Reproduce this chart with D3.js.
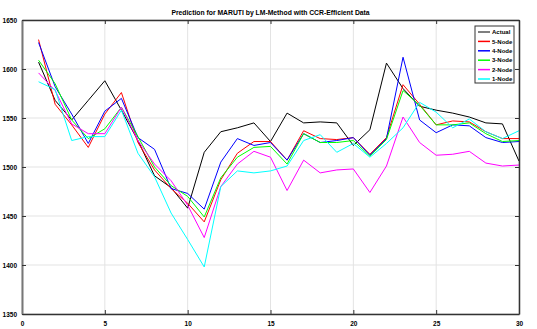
<!DOCTYPE html>
<html>
<head>
<meta charset="utf-8">
<style>
  body { margin: 0; background: #fff; }
  svg text { font-family: "Liberation Sans", Arial, sans-serif; font-weight: bold; fill: #000; }
</style>
</head>
<body>
<div id="chart"></div>
<script src="https://cdn.jsdelivr.net/npm/d3@7"></script>
<script>
// series values, index 1..30
var days = d3.range(1, 31);
var actual = [1607, 1568, 1548, 1568, 1588, 1558, 1527, 1491, 1479, 1458, 1515, 1536, 1540, 1545, 1526, 1555, 1545, 1546, 1545, 1522, 1538, 1606, 1580, 1562, 1558, 1555, 1551, 1545, 1544, 1506];
var node5 = [1630, 1564, 1543, 1520, 1554, 1576, 1525, 1497, 1478, 1463, 1444, 1487, 1514, 1526, 1526, 1507, 1537, 1529, 1528, 1530, 1513, 1530, 1584, 1564, 1543, 1547, 1546, 1536, 1529, 1529];
var node4 = [1627, 1582, 1554, 1524, 1557, 1570, 1530, 1518, 1478, 1473, 1457, 1505, 1529, 1522, 1525, 1507, 1534, 1525, 1527, 1530, 1512, 1529, 1612, 1548, 1535, 1543, 1542, 1530, 1525, 1526];
var node3 = [1609, 1585, 1548, 1529, 1539, 1561, 1531, 1500, 1481, 1470, 1449, 1489, 1510, 1520, 1521, 1503, 1534, 1525, 1525, 1527, 1511, 1528, 1578, 1563, 1543, 1543, 1545, 1534, 1526, 1527];
var node2 = [1596, 1578, 1544, 1534, 1534, 1561, 1527, 1503, 1486, 1461, 1428, 1480, 1503, 1516, 1510, 1476, 1507, 1494, 1497, 1498, 1474, 1501, 1551, 1525, 1512, 1513, 1516, 1504, 1501, 1502];
var node1 = [1587, 1579, 1527, 1531, 1531, 1558, 1514, 1490, 1453, 1426, 1398, 1480, 1496, 1494, 1496, 1501, 1527, 1533, 1515, 1524, 1510, 1524, 1540, 1566, 1556, 1540, 1549, 1536, 1529, 1537];

var seriesNames = ["Actual", "5-Node", "4-Node", "3-Node", "2-Node", "1-Node"];
var seriesColors = ["#000000", "#ff0000", "#0000ff", "#00ff00", "#ff00ff", "#00ffff"];
var seriesValues = [actual, node5, node4, node3, node2, node1];

var xTicks = [0, 5, 10, 15, 20, 25, 30];
var yTicks = [1350, 1400, 1450, 1500, 1550, 1600, 1650];

var width = 537, height = 329;
var margin = { top: 20, right: 18, bottom: 15, left: 22 };

var svg = d3.select("#chart").append("svg")
  .attr("width", width)
  .attr("height", height);

var x = d3.scaleLinear().domain([0, 30]).range([margin.left, width - margin.right]);
var y = d3.scaleLinear().domain([1350, 1650]).range([height - margin.bottom, margin.top]);

// grid
svg.append("g").selectAll("line")
  .data(xTicks).enter().append("line")
  .attr("x1", d => x(d)).attr("x2", d => x(d))
  .attr("y1", y(1350)).attr("y2", y(1650))
  .style("stroke", "#e3e3e3").style("stroke-width", 1);
svg.append("g").selectAll("line")
  .data(yTicks).enter().append("line")
  .attr("x1", x(0)).attr("x2", x(30))
  .attr("y1", d => y(d)).attr("y2", d => y(d))
  .style("stroke", "#e3e3e3").style("stroke-width", 1);

// lines
var line = d3.line()
  .x((d, i) => x(days[i]))
  .y(d => y(d));

seriesValues.forEach(function(vals, i) {
  svg.append("path")
    .datum(vals)
    .attr("d", line)
    .style("fill", "none")
    .style("stroke", seriesColors[i])
    .style("stroke-width", 1);
});

// axes (box with inward ticks)
var axisColor = "#333";
var axBottom = svg.append("g").attr("transform", "translate(0," + y(1350) + ")")
  .call(d3.axisBottom(x).tickValues(xTicks).tickSizeInner(-4).tickSizeOuter(0).tickPadding(7));
var axTop = svg.append("g").attr("transform", "translate(0," + y(1650) + ")")
  .call(d3.axisTop(x).tickValues(xTicks).tickSizeInner(-4).tickSizeOuter(0).tickFormat(""));
var axLeft = svg.append("g").attr("transform", "translate(" + x(0) + ",0)")
  .call(d3.axisLeft(y).tickValues(yTicks).tickFormat(d3.format("d")).tickSizeInner(-4).tickSizeOuter(0).tickPadding(5));
var axRight = svg.append("g").attr("transform", "translate(" + x(30) + ",0)")
  .call(d3.axisRight(y).tickValues(yTicks).tickSizeInner(-4).tickSizeOuter(0).tickFormat(""));

[axBottom, axTop, axLeft, axRight].forEach(function(g) {
  g.select(".domain").style("stroke", axisColor).style("stroke-width", 1.5);
  g.selectAll(".tick line").style("stroke", axisColor);
  g.selectAll("text")
    .attr("font-size", null).attr("font-family", null)
    .style("font-size", "6.5px")
    .style("font-family", "Liberation Sans, Arial, sans-serif")
    .style("font-weight", "bold").attr("fill", "#000");
});
axLeft.select(".domain").style("stroke", "#777").style("stroke-width", 2);

// title
svg.append("text")
  .attr("x", (x(0) + x(30)) / 2)
  .attr("y", 15)
  .attr("text-anchor", "middle")
  .style("font-size", "6.8px")
  .text("Prediction for MARUTI by LM-Method with CCR-Efficient Data");

// legend
var legend = svg.append("g").attr("transform", "translate(475,26)");
legend.append("rect")
  .attr("width", 39).attr("height", 57)
  .style("fill", "#fff").style("stroke", "#333").style("stroke-width", 1);
seriesNames.forEach(function(name, i) {
  var ly = 6 + i * 9.4;
  legend.append("line")
    .attr("x1", 3).attr("x2", 15)
    .attr("y1", ly).attr("y2", ly)
    .style("stroke", i === 0 ? "#555" : seriesColors[i])
    .style("stroke-width", 1.5);
  legend.append("text")
    .attr("x", 17).attr("y", ly + 2.2)
    .style("font-size", "6px")
    .text(name);
});
</script>
</body>
</html>
